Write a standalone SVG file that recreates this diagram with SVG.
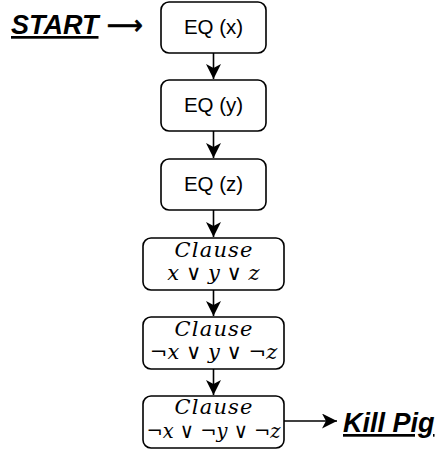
<svg xmlns="http://www.w3.org/2000/svg" width="437" height="452" viewBox="0 0 437 452">
<defs>
<marker id="ah" markerUnits="userSpaceOnUse" markerWidth="16" markerHeight="16" refX="15" refY="7.5" orient="auto">
<path d="M0,0 L15,7.5 L0,15 L4,7.5 Z" fill="#000"/>
</marker>
<style>
.box{fill:#fff;stroke:#000;stroke-width:1.6}
.eq{font-family:"Liberation Sans",Arial,sans-serif;font-size:20.5px;text-anchor:middle;fill:#000}
.m{font-family:"DejaVu Serif",serif;font-size:21px;text-anchor:middle;fill:#000}
.v{font-style:italic}
.lbl{font-family:"Liberation Sans",Arial,sans-serif;font-size:27px;font-weight:bold;font-style:italic;text-decoration:underline;fill:#000}
.edge{stroke:#000;stroke-width:1.6;fill:none;marker-end:url(#ah)}
</style>
</defs>
<g id="start">
<text class="lbl" x="11" y="34">START</text>
<text x="107" y="34" font-family="DejaVu Sans,sans-serif" font-size="27" fill="#000" stroke="#000" stroke-width="0.8" textLength="36" lengthAdjust="spacingAndGlyphs">⟶</text>
</g>
<g id="eqx"><rect class="box" x="161" y="2" width="105" height="51" rx="8"/><text class="eq" x="213.5" y="34">EQ (x)</text></g>
<g id="eqy"><rect class="box" x="161" y="80" width="105" height="51" rx="8"/><text class="eq" x="213.5" y="112">EQ (y)</text></g>
<g id="eqz"><rect class="box" x="161" y="159" width="105" height="51" rx="8"/><text class="eq" x="213.5" y="191">EQ (z)</text></g>
<g id="c1"><rect class="box" x="143" y="238" width="141" height="52" rx="8"/>
<text class="m v" x="213.5" y="257" textLength="78" lengthAdjust="spacing">Clause</text>
<text class="m" x="213.5" y="280"><tspan class="v">x</tspan> ∨ <tspan class="v">y</tspan> ∨ <tspan class="v">z</tspan></text></g>
<g id="c2"><rect class="box" x="143" y="317" width="141" height="52" rx="8"/>
<text class="m v" x="213.5" y="336" textLength="78" lengthAdjust="spacing">Clause</text>
<text class="m" x="213.5" y="359">¬<tspan class="v">x</tspan> ∨ <tspan class="v">y</tspan> ∨ ¬<tspan class="v">z</tspan></text></g>
<g id="c3"><rect class="box" x="143" y="396" width="141" height="52" rx="8"/>
<text class="m v" x="213.5" y="414" textLength="78" lengthAdjust="spacing">Clause</text>
<text class="m" x="213.5" y="438" textLength="134" lengthAdjust="spacingAndGlyphs">¬<tspan class="v">x</tspan> ∨ ¬<tspan class="v">y</tspan> ∨ ¬<tspan class="v">z</tspan></text></g>
<g id="kill"><text class="lbl" x="343" y="432">Kill Pig</text></g>
<g id="connectors">
<path class="edge" d="M213.5,53 V79"/>
<path class="edge" d="M213.5,131 V158"/>
<path class="edge" d="M213.5,210 V237"/>
<path class="edge" d="M213.5,290 V316"/>
<path class="edge" d="M213.5,369 V395"/>
<path class="edge" d="M284,421 H337"/>
</g>
</svg>
